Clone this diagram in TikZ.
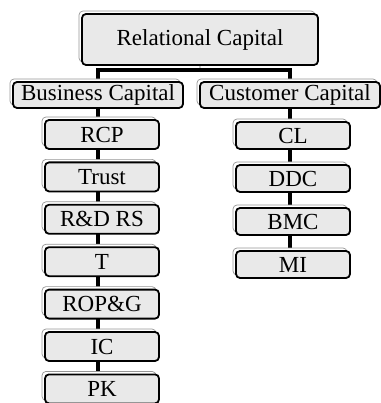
\documentclass[tikz,border=0pt]{standalone}
\usepackage{fontspec}
\setmainfont{Liberation Serif}
\usetikzlibrary{positioning, shadows, backgrounds}
\definecolor{boxgray}{RGB}{233, 233, 233}
\definecolor{shadowgray}{RGB}{150, 150, 150}

\begin{document}
\begin{tikzpicture}[
    x=1pt, y=1pt,
    capbox/.style={draw=black, fill=boxgray, line width=1.8pt, rounded corners=4pt, font=\fontsize{23}{26}\selectfont, align=center, inner sep=0pt,
        copy shadow={shadow xshift=-3pt, shadow yshift=3pt, draw=shadowgray, fill=white, line width=0.7pt}},
    topbox/.style={capbox, minimum width=236pt, minimum height=51pt},
    midbox/.style={capbox, minimum height=26pt},
    leafbox/.style={capbox, minimum width=114pt, minimum height=29pt},
    leafboxr/.style={capbox, minimum width=114pt, minimum height=27pt},
    link/.style={line width=4.5pt, black},
    stub/.style={line width=1.5pt, gray!40}
]
\useasboundingbox (0,0) rectangle (380,-403);

% Top level
\node (rc) [topbox] at (200,-39.5) {Relational Capital};

% Second level
\node (bc) [midbox, minimum width=170pt] at (98,-95) {Business Capital};
\node (cc) [midbox, minimum width=180pt] at (290,-95) {Customer Capital};

% Business Capital items
\node (rcp) [leafbox] at (102,-134.5) {RCP};
\node (trust) [leafbox, below=11.6pt of rcp] {Trust};
\node (rdrs) [leafbox, below=11.6pt of trust] {R\&D RS};
\node (t) [leafbox, below=11.6pt of rdrs] {T};
\node (ropg) [leafbox, below=11.6pt of t] {ROP\&G};
\node (ic) [leafbox, below=11.6pt of ropg] {IC};
\node (pk) [leafbox, below=11.6pt of ic] {PK};

% Customer Capital items
\node (cl) [leafboxr] at (293,-135.5) {CL};
\node (ddc) [leafboxr, below=14.2pt of cl] {DDC};
\node (bmc) [leafboxr, below=14.2pt of ddc] {BMC};
\node (mi) [leafboxr, below=14.2pt of bmc] {MI};

% Connectors
\begin{scope}[on background layer]
\coordinate (bar) at (200,-70);
\draw [stub] (rc.south) -- (bar);
\draw [link] (bc.north) -- (bc.north |- bar) -- (cc.north |- bar) -- (cc.north);
\draw [link] (bc.south) -- (bc.south |- pk.center);
\draw [link] (cc.south) -- (cc.south |- mi.center);
\end{scope}

\end{tikzpicture}
\end{document}
